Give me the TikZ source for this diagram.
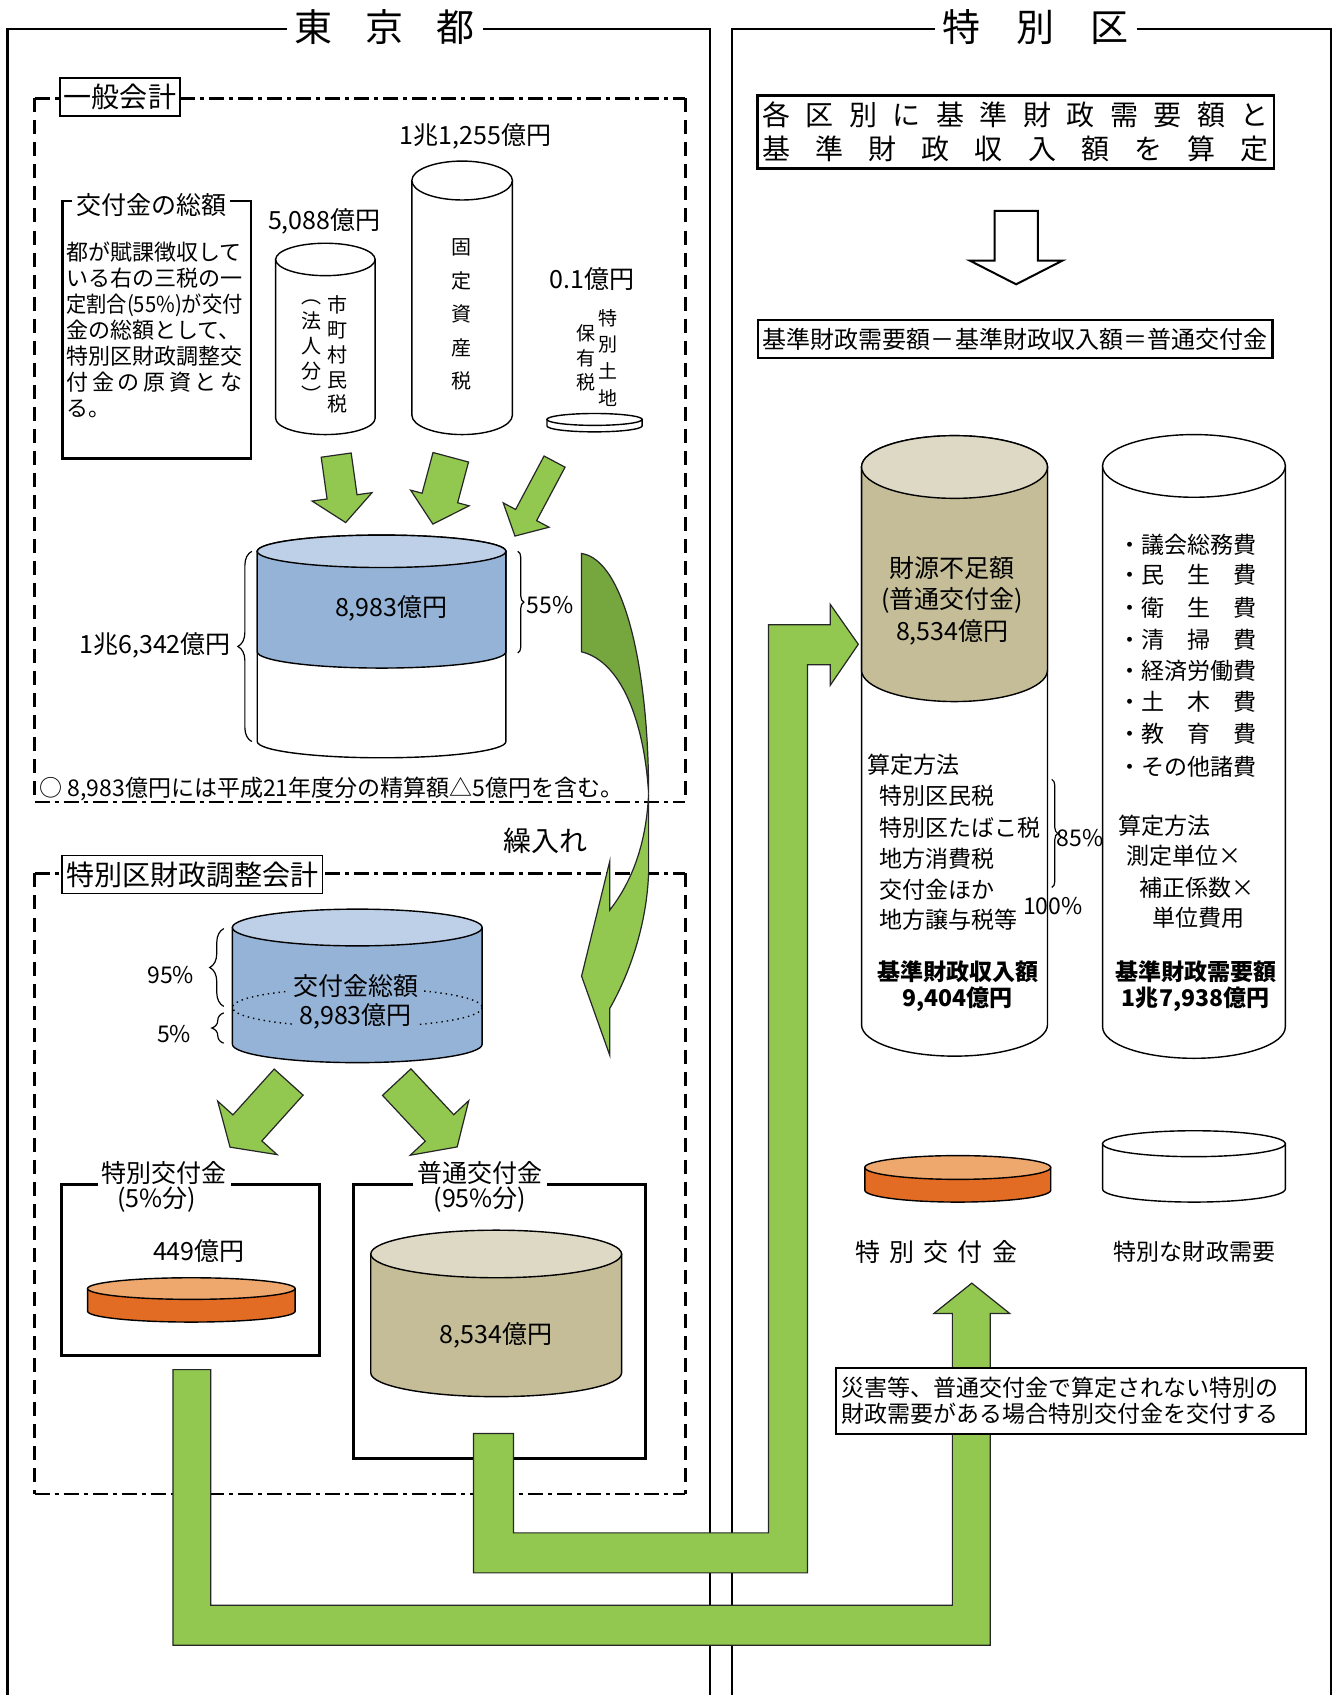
\documentclass[tikz,border=0pt]{standalone}
\usepackage{fontspec}
\setmainfont{Noto Sans CJK JP}
\usetikzlibrary{decorations.pathreplacing}

\definecolor{grnLight}{RGB}{146,200,80}
\definecolor{grnDark}{RGB}{118,166,62}
\definecolor{bluSide}{RGB}{149,179,215}
\definecolor{bluTop}{RGB}{189,208,232}
\definecolor{khkSide}{RGB}{196,189,151}
\definecolor{khkTop}{RGB}{221,217,196}
\definecolor{orgSide}{RGB}{227,108,36}
\definecolor{orgTop}{RGB}{238,168,110}

% cylinder: left x, right x, lid centre y, base centre y, y radius, side colour, lid colour
\newcommand{\cyl}[7]{%
  \pgfmathsetmacro{\cylcx}{(#1+#2)/2}%
  \pgfmathsetmacro{\cylrx}{(#2-#1)/2}%
  \filldraw[line width=0.7pt, fill=#6] (#1,#3) -- (#1,#4)
    arc[start angle=180, end angle=0, x radius=\cylrx, y radius=#5] -- (#2,#3) -- cycle;
  \filldraw[line width=0.7pt, fill=#7] (\cylcx,#3) ellipse[x radius=\cylrx, y radius=#5];}

% block arrow: tail centre, heading, length, half shaft, half head, head length
\newcommand{\fatarrow}[6]{%
  \filldraw[garrow, shift={#1}, rotate=#2]
    (0,-#4) -- ({#3-#6},-#4) -- ({#3-#6},-#5) -- (#3,0)
    -- ({#3-#6},#5) -- ({#3-#6},#4) -- (0,#4) -- cycle;}

\begin{document}
\begin{tikzpicture}[x=0.54pt, y=-0.54pt,
    lbl/.style={font=\fontsize{12.5}{15}\selectfont, inner sep=0pt},
    lst/.style={font=\fontsize{11.5}{13}\selectfont, inner sep=0pt},
    big/.style={font=\fontsize{14}{17.3}\selectfont, inner sep=0pt},
    ttl/.style={font=\fontsize{19}{21}\selectfont, fill=white, inner xsep=4pt, inner ysep=1pt},
    tagbox/.style={draw, line width=0.9pt, fill=white, font=\fontsize{14}{16}\selectfont, inner xsep=2pt, inner ysep=3pt},
    vert/.style={align=center, inner sep=0pt},
    bigframe/.style={line width=1.1pt},
    acct/.style={line width=1.2pt, dash pattern=on 7.5pt off 2.5pt on 2pt off 2.5pt},
    acctside/.style={line width=1.2pt, dash pattern=on 7pt off 4pt},
    brc/.style={decorate, line width=0.6pt},
    garrow/.style={fill=grnLight, draw=black!85, line width=0.6pt},
    pipe/.style={fill=grnLight, draw=black!85, line width=0.6pt}]
\useasboundingbox (0,0) rectangle (1234,1568);

% two outer frames
\draw[bigframe] (7,1568) -- (7,27) -- (657,27) -- (657,1568);
\draw[bigframe] (677,1568) -- (677,27) -- (1231,27) -- (1231,1568);
\node[ttl] (tokyo) at (356,25) {\makebox[90pt][s]{東 京 都}};
\node[ttl] (ku) at (958,25) {\makebox[93pt][s]{特 別 区}};

% general account
\draw[acct] (32,91) -- (634,91);
\draw[acct] (32,742) -- (634,742);
\draw[acctside] (32,91) -- (32,742);
\draw[acctside] (634,91) -- (634,742);
\node[tagbox] (ippan) at (111,90) {一般会計};

\draw[line width=1.2pt] (58,186) rectangle (232,424);
\node[lbl, fill=white, inner xsep=2pt] (sogaku) at (140,190) {交付金の総額};
\node[vert, anchor=north west, align=left, font=\fontsize{11}{13}\selectfont] (sogakutxt) at (61,223)
  {都が賦課徴収して\\いる右の三税の一\\\scalebox{0.92}[1]{定割合(55\%)が交付}\\金の総額として、\\特別区財政調整交\\\makebox[8em][s]{付 金 の 原 資 と な}\\る。};

\cyl{255}{347}{240}{387}{15}{white}{white}
\cyl{381}{474}{167}{384}{18}{white}{white}
\cyl{506}{594}{388}{394}{5.5}{white}{white}
\node[lbl] (v5088) at (300,205) {5,088億円};
\node[lbl] (v11255) at (440,126) {1兆1,255億円};
\node[lbl] (v01) at (548,258) {0.1億円};
\node[vert, font=\fontsize{10}{12.4}\selectfont] (shichoson) at (312,328) {市\\町\\村\\民\\税};
\node[vert, font=\fontsize{10}{12.4}\selectfont] (hojin) at (288,325) {︵\\法\\人\\分\\︶};
\node[vert, font=\fontsize{10}{16.7}\selectfont] (kotei) at (427,291) {固\\定\\資\\産\\税};
\node[vert, font=\fontsize{9.5}{13.3}\selectfont] (tokutochi) at (562,331) {特\\別\\土\\地};
\node[vert, font=\fontsize{9.5}{12.4}\selectfont] (hoyu) at (542,331) {保\\有\\税};

\fatarrow{(311,421)}{-82}{63}{14}{28}{24}
\fatarrow{(417,423)}{-105}{64}{17}{28}{25}
\fatarrow{(513,427)}{-118}{78}{11}{24}{22}

\cyl{238}{468}{510}{686}{15}{white}{white}
\cyl{238}{468}{510}{603}{15}{bluSide}{bluTop}
\node[lbl] (g8983) at (362,563) {8,983億円};
\draw[brc, decoration={brace, amplitude=7pt}] (233,686) -- (233,510);
\node[lbl, anchor=east] (g16342) at (214,597) {1兆6,342億円};
\draw[brc, decoration={brace, amplitude=3pt}] (479,510) -- (479,604);
\node[lst, anchor=west] (p55) at (487,560) {55\%};
\node[lst, anchor=west] (note) at (36,730) {○ 8,983億円には平成21年度分の精算額△5億円を含む。};
\node[big] (kuriire) at (505,778) {繰入れ};

% adjustment account
\draw[acct] (32,808) -- (634,808);
\draw[acct] (32,1382) -- (634,1382);
\draw[acctside] (32,808) -- (32,1382);
\draw[acctside] (634,808) -- (634,1382);
\node[tagbox] (chosei) at (178,809) {特別区財政調整会計};

\cyl{215}{446}{858}{966}{17}{bluSide}{bluTop}
\draw[dotted, line width=0.7pt] (330.5,932) ellipse[x radius=115.5, y radius=18];
\node[lbl, fill=bluSide, inner xsep=2pt] (kofukin) at (329,912) {交付金総額};
\node[lbl, fill=bluSide, inner xsep=2pt] (k8983) at (329,940) {8,983億円};
\draw[brc, decoration={brace, amplitude=7pt}] (207,931) -- (207,859);
\node[lst] (p95) at (158,902) {95\%};
\draw[brc, decoration={brace, amplitude=6pt}] (207,965) -- (207,937);
\node[lst] (p5) at (161,957) {5\%};

\fatarrow{(267,1001)}{-132}{81}{18}{37}{24}
\fatarrow{(367,1001)}{-47}{82}{18}{37}{24}

\draw[line width=1.5pt] (57,1096) rectangle (296,1254);
\node[lbl, fill=white, inner xsep=2pt, inner ysep=1pt] (tokkofu) at (152,1085) {特別交付金};
\node[lbl] (tok5) at (145,1110) {(5\%分)};
\node[lbl] (v449) at (184,1157) {449億円};
\cyl{81}{273}{1192}{1213}{10}{orgSide}{orgTop}

\draw[line width=1.5pt] (327,1096) rectangle (597,1349);
\node[lbl, fill=white, inner xsep=2pt, inner ysep=1pt] (futsukofu) at (444,1085) {普通交付金};
\node[lbl] (fut95) at (444,1110) {(95\%分)};
\cyl{343}{575}{1160}{1270}{22}{khkSide}{khkTop}
\node[lbl] (v8534) at (459,1235) {8,534億円};

% special wards side
\node[draw, line width=1.3pt, align=center, big, inner ysep=3pt, minimum width=258pt, minimum height=35pt] (santei) at (939.5,122)
  {\makebox[253pt][s]{各 区 別 に 基 準 財 政 需 要 額 と}\\\makebox[253pt][s]{基 準 財 政 収 入 額 を 算 定}};
\filldraw[line width=1pt, fill=white] (920,195) -- (960,195) -- (960,241) -- (983,241) -- (940,263) -- (897,241) -- (920,241) -- cycle;
\node[draw, line width=1.3pt, lbl, font=\fontsize{12}{14}\selectfont, minimum width=257pt, minimum height=19pt] (formula) at (939,313.5)
  {基準財政需要額－基準財政収入額＝普通交付金};

\cyl{797}{969}{432}{948}{29}{white}{white}
\cyl{797}{969}{432}{620}{29}{khkSide}{khkTop}
\node[lbl] (fuzoku) at (881,525) {財源不足額};
\node[lbl] (fuzoku2) at (881,555) {(普通交付金)};
\node[lbl] (fuzoku3) at (881,585) {8,534億円};
\node[lst, anchor=west] (revhow) at (802,707) {算定方法};
\foreach \t/\y [count=\i] in {特別区民税/736, 特別区たばこ税/766, 地方消費税/794, 交付金ほか/823, 地方譲与税等/851}
  \node[lst, anchor=west] (rev\i) at (813,\y) {\t};
\draw[brc, decoration={brace, amplitude=3pt}] (973,721) -- (973,821);
\node[lst, anchor=west] (p85) at (977,775) {85\%};
\node[lst, anchor=west] (p100) at (946,838) {100\%};
\node[lst, align=center, font=\fontsize{11.5}{13}\selectfont\bfseries] (revsum) at (886,912) {基準財政収入額\\9,404億円};

\cyl{1020}{1189}{431}{950}{29}{white}{white}
\foreach \t/\y [count=\i] in {議会総務費/504, 民　生　費/532, 衛　生　費/562, 清　掃　費/592, 経済労働費/621, 土　木　費/649, 教　育　費/679, その他諸費/709}
  \node[lst, anchor=west] (need\i) at (1034,\y) {・\t};
\node[lst, anchor=west] (needhow) at (1034,764) {算定方法};
\node[lst, anchor=west] (needa) at (1042,792) {測定単位×};
\node[lst, anchor=west] (needb) at (1054,821) {補正係数×};
\node[lst, anchor=west] (needc) at (1066,849) {単位費用};
\node[lst, align=center, font=\fontsize{11.5}{13}\selectfont\bfseries] (needsum) at (1106,912) {基準財政需要額\\1兆7,938億円};

\cyl{800}{972}{1080}{1101}{11}{orgSide}{orgTop}
\cyl{1020}{1189}{1058}{1100}{12}{white}{white}
\node[lbl] (tokkofu2) at (866,1158) {\makebox[81pt][s]{特 別 交 付 金}};
\node[lst] (tokjuyo) at (1105,1158) {特別な財政需要};

% green transfer arrows
\filldraw[fill=grnDark, draw=black!85, line width=0.6pt] (538,512) .. controls (578,518) and (600,620) .. (600,734)
  .. controls (596,668) and (575,612) .. (538,603) -- cycle;
\filldraw[fill=grnLight, draw=black!85, line width=0.6pt] (600,734) -- (600,808) .. controls (598,860) and (580,905) .. (564,933)
  -- (564,976) -- (538,903) -- (564,797) -- (564,842) .. controls (585,815) and (598,780) .. (600,734) -- cycle;

\filldraw[pipe] (160,1267) -- (195,1267) -- (195,1485) -- (881,1485) -- (881,1215) -- (864,1215) -- (899,1187)
  -- (934,1215) -- (916,1215) -- (916,1522) -- (160,1522) -- cycle;
\filldraw[pipe] (438,1326) -- (475,1326) -- (475,1418) -- (711,1418) -- (711,578) -- (768,578) -- (768,559)
  -- (794,596) -- (768,634) -- (768,615) -- (747,615) -- (747,1455) -- (438,1455) -- cycle;

\node[draw, line width=1pt, fill=white, lst, align=left, anchor=west, text width=229pt, inner xsep=3pt, minimum height=33pt] (saigai) at (772,1296)
  {災害等、普通交付金で算定されない特別の\\財政需要がある場合特別交付金を交付する};
\end{tikzpicture}
\end{document}
